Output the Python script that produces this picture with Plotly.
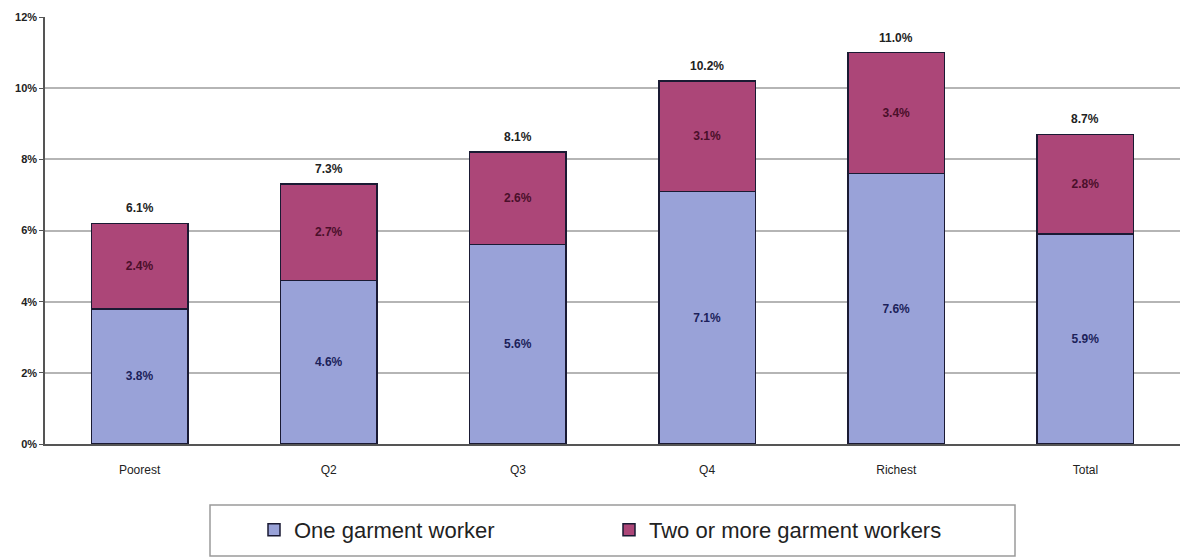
import plotly.graph_objects as go

categories = ["Poorest", "Q2", "Q3", "Q4", "Richest", "Total"]
one_worker = [3.8, 4.6, 5.6, 7.1, 7.6, 5.9]
two_plus = [2.4, 2.7, 2.6, 3.1, 3.4, 2.8]
totals = [6.1, 7.3, 8.1, 10.2, 11.0, 8.7]
y_ticks = [0, 2, 4, 6, 8, 10, 12]

FONT = "Liberation Sans, Arial, sans-serif"
BLUE = "#99A2D8"
PINK = "#AC4678"

fig = go.Figure()
fig.add_trace(go.Bar(
    x=categories, y=one_worker, name="One garment worker",
    marker=dict(color=BLUE, line=dict(color="#1a1a33", width=1.5)),
    text=[f"<b>{v:.1f}%</b>" for v in one_worker], textposition="inside",
    insidetextanchor="middle",
    textfont=dict(family=FONT, size=12, color="#1c1f5a"),
    width=0.51,
))
fig.add_trace(go.Bar(
    x=categories, y=two_plus, name="Two or more garment workers",
    marker=dict(color=PINK, line=dict(color="#1a1a33", width=1.5)),
    text=[f"<b>{v:.1f}%</b>" for v in two_plus], textposition="inside",
    insidetextanchor="middle",
    textfont=dict(family=FONT, size=12, color="#4a0f2a"),
    width=0.51,
))

for cat, a, b, t in zip(categories, one_worker, two_plus, totals):
    fig.add_annotation(
        x=cat, y=a + b, text=f"<b>{t:.1f}%</b>", showarrow=False,
        yanchor="bottom", yshift=6,
        font=dict(family=FONT, size=12, color="#222222"),
    )

# legend frame
fig.add_shape(
    type="rect", xref="paper", yref="paper",
    x0=(210 - 45) / 1135, x1=(1015 - 45) / 1135,
    y0=(444 - 556) / 427, y1=(444 - 505) / 427,
    line=dict(color="#9a9a9a", width=1.5), fillcolor="rgba(0,0,0,0)",
)

fig.update_layout(
    barmode="stack",
    width=1182, height=558,
    margin=dict(l=45, r=2, t=17, b=114),
    plot_bgcolor="white", paper_bgcolor="white",
    font=dict(family=FONT, color="#222222"),
    uniformtext=dict(minsize=8, mode="show"),
    xaxis=dict(
        showgrid=False, showline=True, linecolor="#555555", linewidth=1.5,
        ticks="", tickfont=dict(size=12, color="#222222"),
        ticklabelstandoff=14,
    ),
    yaxis=dict(
        range=[0, 12], tickvals=y_ticks, ticktext=[f"<b>{t}%</b>" for t in y_ticks],
        showgrid=True, gridcolor="#b5b5b5", gridwidth=1.5,
        showline=True, linecolor="#555555", linewidth=1.5,
        ticks="outside", ticklen=4, tickcolor="#555555",
        tickfont=dict(size=11, color="#222222"), zeroline=False,
    ),
    legend=dict(
        orientation="h", traceorder="normal",
        x=(254 - 45) / 1135, xanchor="left", y=(444 - 509) / 427, yanchor="top",
        borderwidth=0, bgcolor="rgba(0,0,0,0)",
        font=dict(family=FONT, size=22, color="#222222"),
        entrywidth=310, entrywidthmode="pixels",
    ),
)

fig.write_html("out.html")
